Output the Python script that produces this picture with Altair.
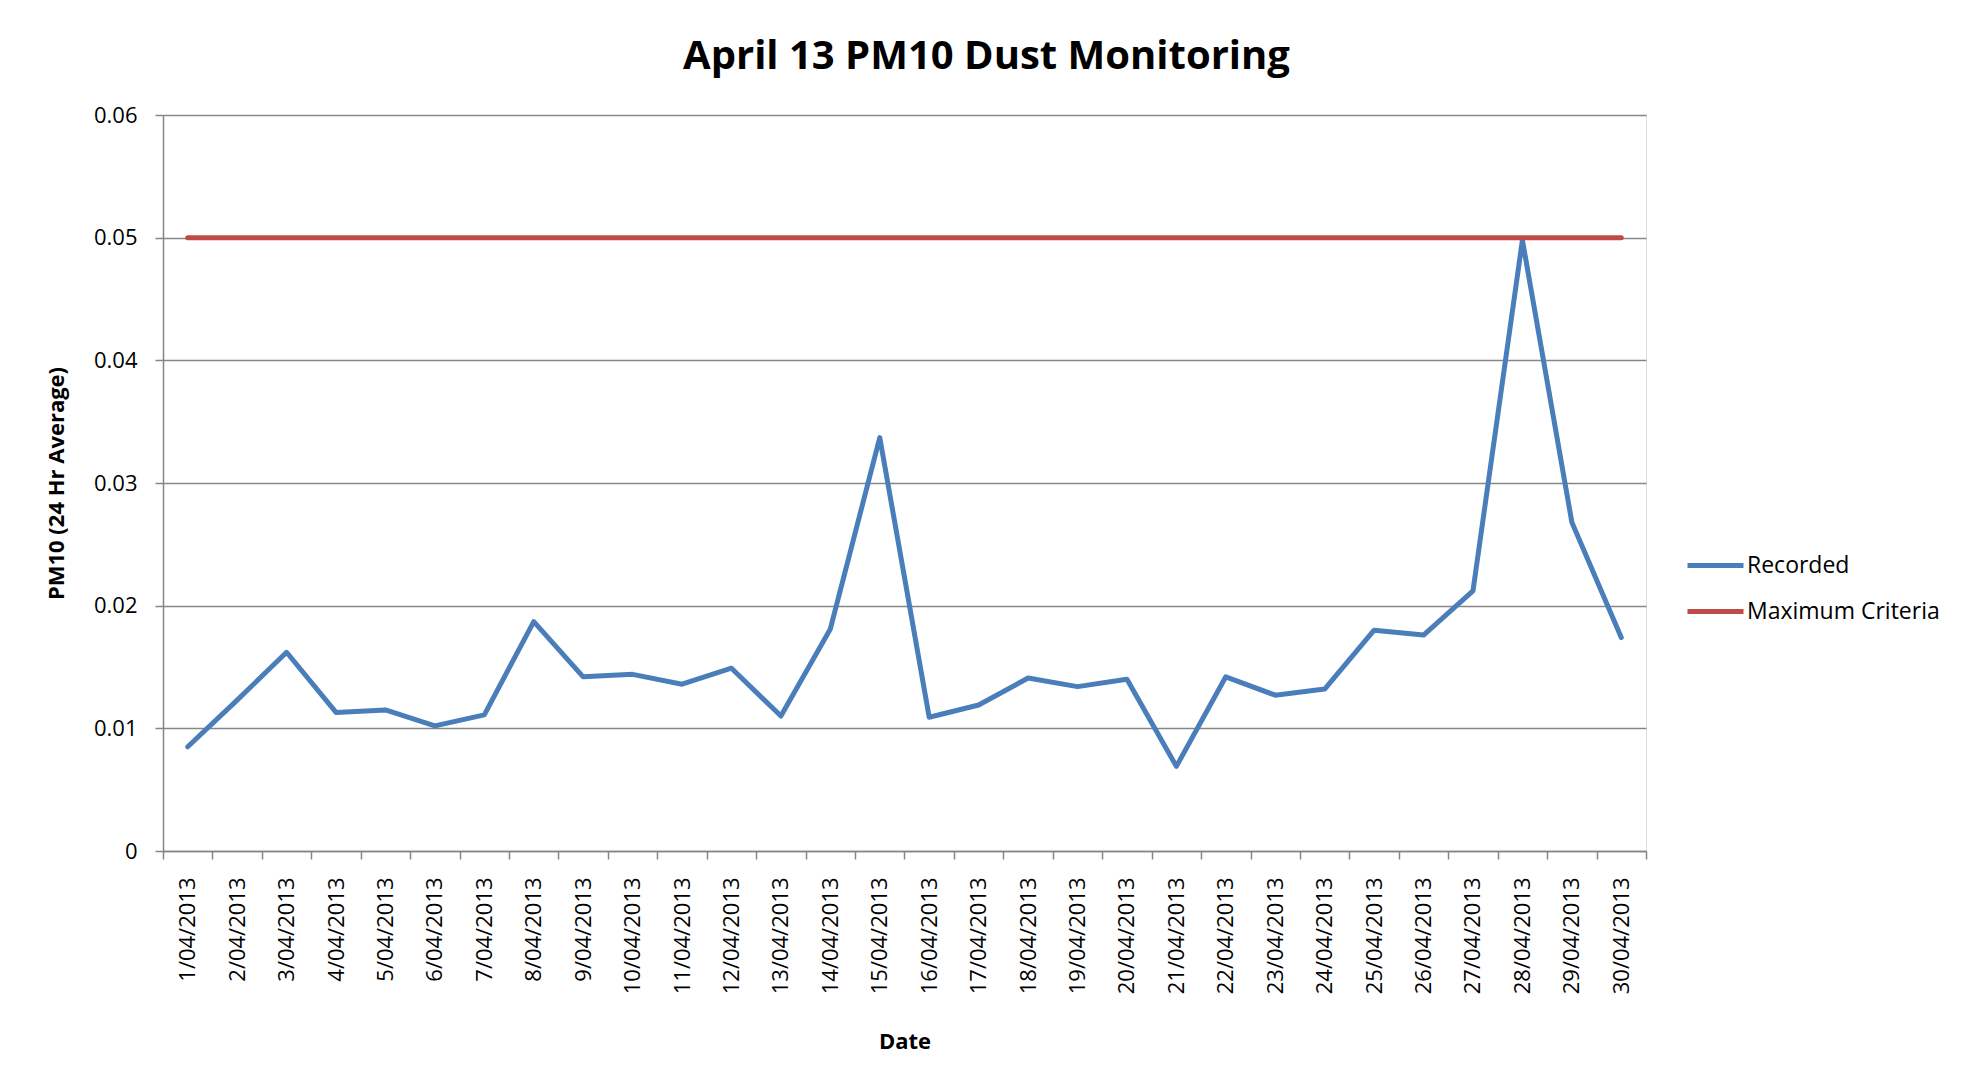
import altair as alt
import pandas as pd

dates = [f"{d}/04/2013" for d in range(1, 31)]
recorded = [0.0085, 0.0123, 0.0162, 0.0113, 0.0115, 0.0102, 0.0111, 0.0187, 0.0142, 0.0144,
            0.0136, 0.0149, 0.0110, 0.0181, 0.0337, 0.0109, 0.0119, 0.0141, 0.0134, 0.0140,
            0.0069, 0.0142, 0.0127, 0.0132, 0.0180, 0.0176, 0.0212, 0.0498, 0.0268, 0.0174]
criteria = [0.05] * 30
series_names = ["Recorded", "Maximum Criteria"]
series_colors = ["#4A7EBB", "#BE4B48"]

df_rec = pd.DataFrame({"Date": dates, "value": recorded, "series": series_names[0]})
df_max = pd.DataFrame({"Date": dates, "value": criteria, "series": series_names[1]})

FONT = "Open Sans"
GRID = "#868686"

x_enc = alt.X(
    "Date:N", sort=dates, bandPosition=0.5,
    scale=alt.Scale(type="band", paddingInner=0, paddingOuter=0),
    axis=alt.Axis(
        title="Date", labelAngle=-90, tickBand="extent", grid=False,
        domainColor=GRID, tickColor=GRID, tickSize=8, domainWidth=1.5, tickWidth=1.5,
        labelPadding=18, labelFontSize=22, labelFont=FONT, labelColor="black",
        titleFontSize=22, titleFont=FONT, titleFontWeight="bold", titleColor="black",
        titleY=190, titleBaseline="middle",
    ),
)
y_enc = alt.Y(
    "value:Q",
    scale=alt.Scale(domain=[0, 0.06], nice=False),
    axis=alt.Axis(
        title="PM10 (24 Hr Average)", values=[0, 0.01, 0.02, 0.03, 0.04, 0.05, 0.06],
        format=".2~f", grid=True, gridColor=GRID, gridWidth=1.5, gridOpacity=1,
        domainColor=GRID, tickColor=GRID, tickSize=8, domainWidth=1.5, tickWidth=1.5,
        labelPadding=18, labelFontSize=22, labelFont=FONT, labelColor="black",
        titleFontSize=22, titleFont=FONT, titleFontWeight="bold", titleColor="black",
        titleX=-107, titleY=368, titleAngle=-90, titleAlign="center", titleBaseline="middle",
    ),
)
color_enc = alt.Color(
    "series:N",
    scale=alt.Scale(domain=series_names, range=series_colors),
    legend=alt.Legend(
        title=None, orient="none", legendX=1522, legendY=420,
        symbolType="stroke", symbolSize=3136, symbolStrokeWidth=5,
        labelFontSize=23, labelFont=FONT, labelColor="black", labelOffset=1,
        labelLimit=400, rowPadding=3, padding=0,
    ),
)

rec = alt.Chart(df_rec).mark_line(strokeWidth=5, strokeCap="round", strokeJoin="round").encode(
    x=x_enc, y=y_enc, color=color_enc)
mx = alt.Chart(df_max).mark_line(strokeWidth=5, strokeCap="round").encode(
    x=x_enc, y=y_enc, color=color_enc)

chart = alt.layer(rec, mx).properties(
    width=1483, height=736,
    title=alt.TitleParams("April 13 PM10 Dust Monitoring", fontSize=40, font=FONT,
                          fontWeight="bold", color="black", anchor="middle",
                          dx=82, dy=45, offset=40, baseline="alphabetic"),
    autosize=alt.AutoSizeParams(type="none"),
    padding={"left": 155, "top": 107, "right": 300, "bottom": 220},
).configure_view(stroke=None).configure(background="white")

chart.save("out.html", embed_options={"renderer": "svg", "actions": False})
